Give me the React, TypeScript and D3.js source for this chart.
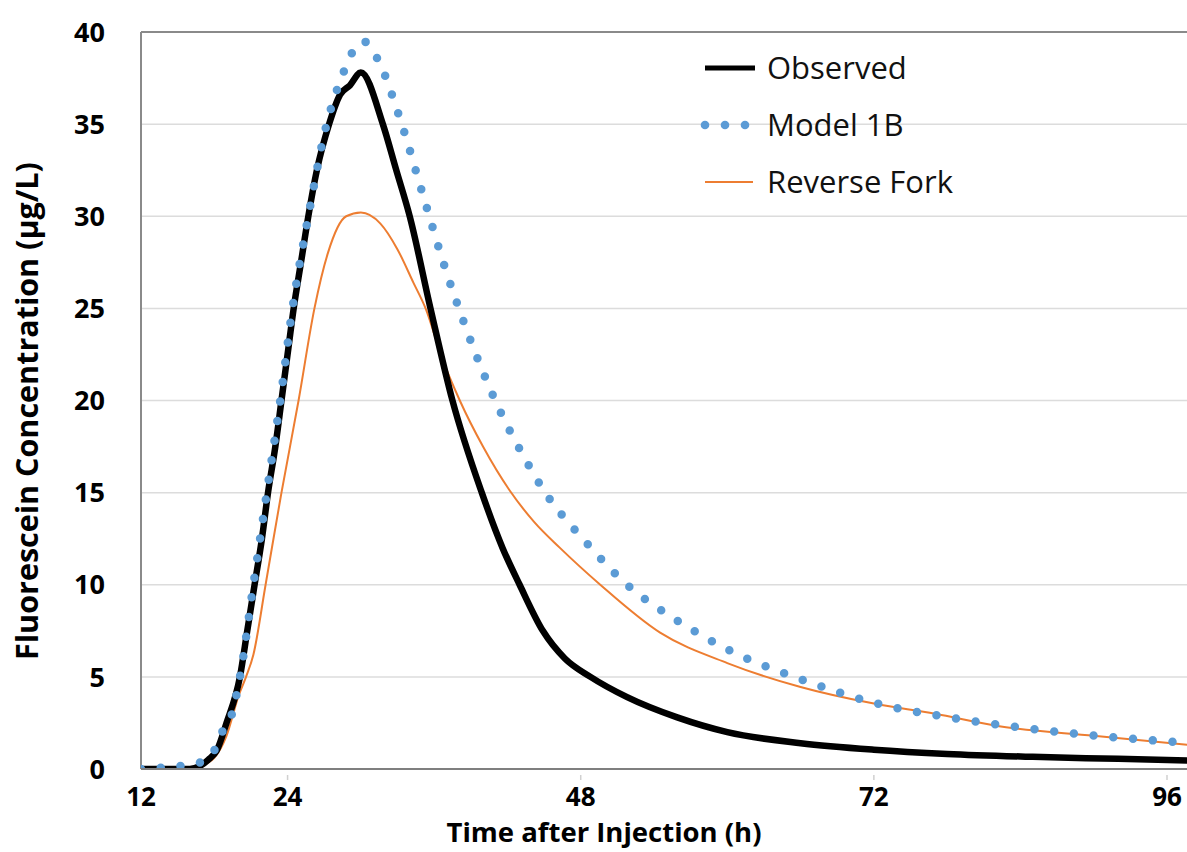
import React from "react";
import * as d3 from "d3";

const observedT = [12, 16, 16.8, 17.5, 18.2, 19, 20.1, 20.7, 21.3, 21.9, 22.4, 23.0, 23.5, 24.0, 24.5, 25.1, 25.7, 26.4, 27.4, 28.3, 29.1, 30, 31.8, 32.9, 34.0, 35.7, 37.5, 39.9, 41.6, 43.0, 44.9, 46.7, 48.8, 51.8, 55.9, 60, 66, 72, 78, 85, 92, 98];
const observedV = [0, 0, 0.15, 0.5, 1.0, 2.5, 5, 7.5, 10, 12.5, 15, 17.5, 20, 22.5, 25, 27.5, 30, 32.5, 35, 36.6, 37.1, 37.8, 35, 32.5, 30, 25, 20, 15, 12, 10, 7.5, 6.0, 5.0, 3.9, 2.8, 2.0, 1.4, 1.05, 0.82, 0.66, 0.55, 0.45];

const modelT = [12, 15, 16.6, 17.9, 18.6, 19.45, 20.1, 21.2, 22.3, 23.4, 24.4, 25.7, 27.2, 28.4, 29.4, 30.2, 31.4, 33.2, 35.2, 36.7, 38.4, 41.0, 43.3, 45.1, 48.3, 51.8, 55.8, 60.3, 66.3, 72, 78.6, 85.3, 95.9, 98];
const modelV = [0, 0.15, 0.3, 0.9, 1.95, 3.0, 5, 10, 15, 20, 25, 30, 35, 37.5, 39, 39.5, 38.5, 35.3, 30.9, 27.6, 24.3, 20, 17, 15, 12.4, 10, 8.1, 6.4, 4.8, 3.6, 2.75, 2.15, 1.5, 1.4];

const forkT = [12, 16, 17, 18, 19, 20, 20.6, 21.2, 22.2, 23.5, 24.9, 26.2, 27.3, 28.8, 30, 31.6, 33, 34.3, 35.3, 36.7, 38.1, 40.0, 42.2, 44.2, 46.3, 49.6, 54.5, 60, 66, 72, 77, 82, 90, 98];
const forkV = [0, 0.05, 0.2, 0.6, 1.8, 4.0, 5, 6.2, 10, 15, 20, 25, 28, 30, 30.2, 29.6, 28.2, 26.4, 25, 22.2, 20, 17.5, 15.1, 13.4, 12, 10, 7.4, 5.75, 4.45, 3.55, 3.0, 2.35, 1.8, 1.3];

const xTicks = [12, 24, 48, 72, 96];
const yTicks = [0, 5, 10, 15, 20, 25, 30, 35, 40];
const legendLabels = ["Observed", "Model 1B", "Reverse Fork"];

const W = 1187;
const H = 852;
const left = 141;
const right = 1187;
const top = 32;
const bottom = 769;

const FONT = "'Open Sans', 'DejaVu Sans', sans-serif";

export default function App() {
  const x = d3.scaleLinear().domain([12, 96]).range([left, 1167]);
  const y = d3.scaleLinear().domain([0, 40]).range([bottom, top]);
  const line = d3
    .line<[number, number]>()
    .x((d) => x(d[0]))
    .y((d) => y(d[1]))
    .curve(d3.curveMonotoneX);

  const obs = observedT.map((t, i) => [t, observedV[i]] as [number, number]);
  const mod = modelT.map((t, i) => [t, modelV[i]] as [number, number]);
  const frk = forkT.map((t, i) => [t, forkV[i]] as [number, number]);

  return (
    <svg
      width={W}
      height={H}
      style={{ position: "absolute", left: 0, top: 0, background: "#fff" }}
    >
      <defs>
        <clipPath id="plotclip">
          <rect x={left} y={top - 10} width={right - left} height={bottom - top + 10} />
        </clipPath>
      </defs>
      {yTicks
        .filter((v) => v > 0 && v < 40)
        .map((v) => (
          <line key={v} x1={left} x2={right} y1={y(v)} y2={y(v)} stroke="#dcdcdc" strokeWidth={1.5} />
        ))}
      <line x1={left} x2={right} y1={top} y2={top} stroke="#8a8a8a" strokeWidth={2} />
      <line x1={left} x2={left} y1={top} y2={bottom} stroke="#8a8a8a" strokeWidth={2} />
      {xTicks.slice(1).map((t) => (
        <line key={t} x1={x(t)} x2={x(t)} y1={bottom + 6} y2={bottom + 11} stroke="#d0d0d0" strokeWidth={1.5} />
      ))}
      <g clipPath="url(#plotclip)">
        <path d={line(frk) || ""} fill="none" stroke="#ED7D31" strokeWidth={2} />
        <path d={line(obs) || ""} fill="none" stroke="#000" strokeWidth={6.5} strokeLinejoin="round" />
        <path
          d={line(mod) || ""}
          fill="none"
          stroke="#5B9BD5"
          strokeWidth={8.5}
          strokeDasharray="0 19.8"
          strokeLinecap="round"
        />
      </g>
      <line x1={left} x2={right} y1={bottom} y2={bottom} stroke="#7f7f7f" strokeWidth={2} />
      {yTicks.map((v) => (
        <text
          key={v}
          x={105}
          y={y(v)}
          dy="0.36em"
          textAnchor="end"
          fontFamily={FONT}
          fontWeight="bold"
          fontSize={27}
          fill="#000"
        >
          {v}
        </text>
      ))}
      {xTicks.map((t) => (
        <text
          key={t}
          x={x(t)}
          y={806}
          textAnchor="middle"
          fontFamily={FONT}
          fontWeight="bold"
          fontSize={26}
          fill="#000"
        >
          {t}
        </text>
      ))}
      <text
        x={604}
        y={842}
        textAnchor="middle"
        fontFamily={FONT}
        fontWeight="bold"
        fontSize={27.5}
        fill="#000"
      >
        Time after Injection (h)
      </text>
      <text
        transform={`translate(38, 411) rotate(-90)`}
        textAnchor="middle"
        fontFamily={FONT}
        fontWeight="bold"
        fontSize={30.5}
        fill="#000"
      >
        Fluorescein Concentration (µg/L)
      </text>
      <g>
        <line x1={705} x2={755} y1={68} y2={68} stroke="#000" strokeWidth={5} />
        {[0, 1, 2].map((i) => (
          <circle key={i} cx={705 + i * 20} cy={125} r={4.3} fill="#5B9BD5" />
        ))}
        <line x1={705} x2={753} y1={182} y2={182} stroke="#ED7D31" strokeWidth={2} />
        {legendLabels.map((l, i) => (
          <text
            key={l}
            x={767}
            y={68 + i * 57}
            dy="0.36em"
            fontFamily={FONT}
            fontSize={31}
            fill="#111"
          >
            {l}
          </text>
        ))}
      </g>
    </svg>
  );
}
